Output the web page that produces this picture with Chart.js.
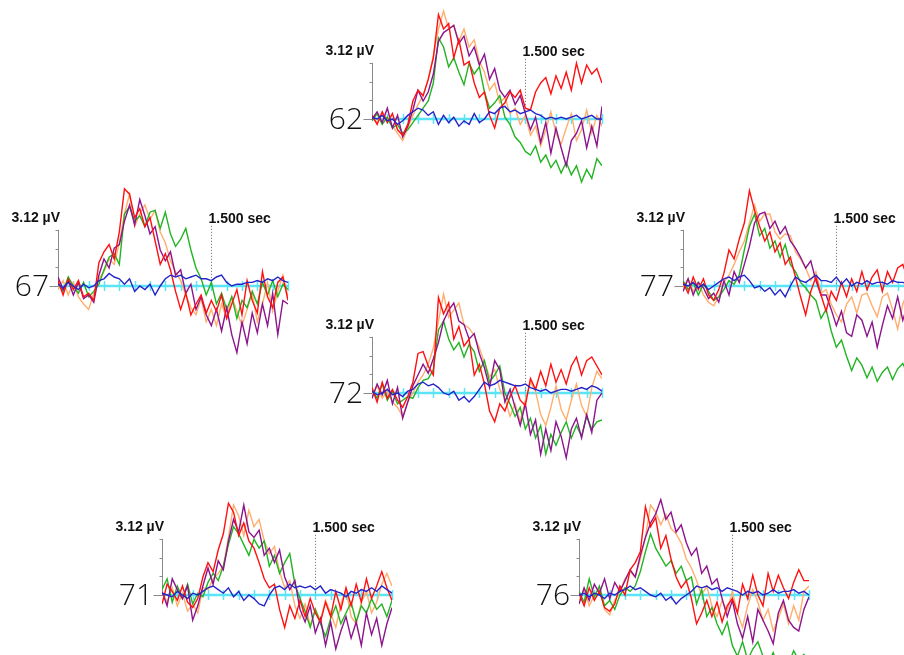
<!DOCTYPE html>
<html lang="en">
<head>
<meta charset="UTF-8">
<title>ERP channels</title>
<script src="https://cdn.jsdelivr.net/npm/chart.js"></script>
<style>
  body { margin: 0; background: #fff; overflow: hidden; }
  #page { position: relative; width: 904px; height: 655px; overflow: hidden; }
  .panel { position: absolute; }
</style>
</head>
<body>
<div id="page"></div>
<script>
// sample times (sec)
const times = [0.00,0.05,0.10,0.15,0.20,0.25,0.30,0.35,0.40,0.45,0.50,0.55,0.60,0.65,0.70,0.75,0.80,0.85,0.90,0.95,
  1.00,1.05,1.10,1.15,1.20,1.25,1.30,1.35,1.40,1.45,1.50,1.55,1.60,1.65,1.70,1.75,1.80,1.85,1.90,1.95,
  2.00,2.05,2.10,2.15,2.20,2.25];

const scaleMicroV = 3.12;
const scaleLabel = '3.12 µV';
const markerSec = 1.5;
const markerLabel = '1.500 sec';
const tickStep = 0.15;

// channel 62
const red62 = [0.2,-0.3,0.4,-0.2,0.3,-0.6,-0.9,-0.3,1.0,1.6,1.3,2.2,3.4,5.8,5.0,5.3,3.4,4.4,3.0,3.2,2.0,1.2,1.5,0.2,-0.5,0.6,0.9,1.5,1.2,1.6,0.6,0.5,1.5,2.0,2.3,1.4,2.4,1.7,2.6,1.6,3.1,2.0,3.0,2.5,2.8,2.0];
const orange62 = [0.1,-0.2,0.3,0.0,-0.4,-0.8,-1.2,-0.5,0.2,0.8,1.3,2.2,3.5,5.0,6.0,5.0,5.2,4.3,5.0,4.0,4.4,3.2,2.6,1.6,2.0,0.9,1.2,0.3,0.6,-0.3,0.2,-0.9,-0.4,-1.5,-0.6,0.4,-0.8,-1.4,-0.5,0.3,-1.2,-0.6,0.5,-0.8,0.2,-0.4];
const green62 = [-0.1,0.3,-0.3,0.1,-0.5,-0.3,-0.8,-0.6,-0.2,0.2,0.6,1.0,2.0,4.5,4.0,2.9,3.4,2.6,1.9,3.1,2.5,2.9,1.5,0.6,0.9,1.3,0.1,-0.3,-1.0,-1.3,-1.8,-2.0,-1.5,-2.4,-2.0,-2.7,-2.3,-3.0,-2.4,-3.1,-2.6,-3.5,-2.8,-3.3,-2.2,-2.6];
const purple62 = [0.0,0.4,-0.2,0.6,-0.5,0.2,-1.0,-0.4,0.5,1.6,1.0,1.5,2.5,4.3,4.8,5.0,5.2,4.2,4.6,3.5,4.0,3.0,3.6,2.2,2.8,1.6,1.2,1.6,0.8,1.3,0.3,-0.6,0.1,-1.3,-0.2,-1.9,-0.5,-1.6,-2.6,-1.2,-0.8,-0.1,-1.6,-0.4,-1.5,0.7];
const blue62 = [0.1,0.0,0.2,-0.1,0.0,-0.3,-0.1,0.2,0.4,0.6,0.5,0.2,0.4,-0.3,0.2,-0.2,0.1,-0.4,-0.1,-0.3,0.3,-0.2,0.0,0.4,0.3,0.6,0.7,0.4,0.5,0.3,0.4,0.5,0.3,0.2,0.0,0.1,0.0,0.1,0.0,0.1,0.2,0.0,0.1,0.2,0.0,0.0];

// channel 67
const red67 = [0.3,-0.5,0.4,-0.2,0.3,-0.6,-0.4,-0.8,1.3,1.9,2.3,1.5,3.0,5.4,5.1,3.8,4.3,3.3,3.8,2.5,1.2,1.8,0.9,-0.3,-1.3,-0.4,-1.6,-1.0,-0.5,-1.5,-0.8,-1.4,-0.5,-1.8,-1.0,-0.2,-1.6,0.3,-0.8,-1.5,0.8,-0.6,-1.2,0.2,0.5,-0.8];
const orange67 = [-0.2,0.3,-0.5,0.2,-0.6,-1.0,-1.3,-0.4,0.4,0.8,1.5,1.2,2.4,4.0,5.1,3.3,4.0,4.5,3.7,4.2,3.0,2.4,1.4,0.8,0.3,-0.5,-1.2,-1.6,-0.7,-2.0,-1.3,-2.2,-1.0,-1.8,-0.6,-1.4,-2.2,-1.3,-0.4,-2.0,-1.0,0.2,-1.4,-0.3,0.6,-0.6];
const green67 = [0.2,-0.3,0.5,0.0,-0.4,0.2,-0.6,-0.3,0.1,0.9,1.6,1.8,1.2,4.0,4.4,3.6,3.9,3.3,4.1,4.2,3.2,4.1,2.9,2.2,2.6,3.2,2.0,1.0,0.4,-0.5,0.2,-1.0,-0.4,-1.3,-0.6,-1.8,-0.8,-1.2,-0.3,-1.0,0.2,-0.5,0.3,-0.6,0.1,-0.2];
const purple67 = [0.5,-0.2,0.3,-0.5,0.2,-0.7,-0.5,-0.9,0.6,1.5,1.0,2.1,2.3,3.6,4.5,3.4,4.8,3.9,2.9,3.3,2.0,1.4,1.9,0.6,0.9,-0.4,0.1,-1.3,-0.6,-1.6,-2.2,-1.3,-2.5,-1.2,-2.7,-3.7,-2.0,-3.2,-1.5,-2.6,-1.0,-2.2,-0.4,-2.7,-0.8,-1.0];
const blue67 = [0.1,-0.1,0.2,0.0,-0.2,0.1,-0.1,0.0,0.3,0.4,0.7,0.5,0.4,0.1,0.4,-0.3,0.0,-0.2,0.1,-0.5,0.0,0.4,0.6,0.5,0.6,0.4,0.5,0.6,0.4,0.4,0.3,0.5,0.6,0.2,0.0,0.1,0.1,0.2,0.2,0.3,0.2,0.4,0.3,0.5,0.3,0.2];

// channel 77
const red77 = [0.2,-0.4,0.5,-0.2,0.4,-0.5,-0.8,-0.2,0.7,2.0,1.5,2.6,3.5,5.3,4.2,3.3,2.5,3.0,1.9,2.4,1.2,1.6,0.5,-0.6,-1.6,-0.3,0.5,-0.5,-1.4,-0.3,-0.8,0.2,-0.6,0.4,-0.3,0.8,-0.2,0.5,0.9,-0.3,0.8,0.2,1.0,1.2,0.4,0.8];
const orange77 = [-0.1,0.4,-0.3,0.2,-0.5,-0.9,-1.1,-0.6,0.2,0.6,1.2,1.9,2.5,3.5,4.5,3.6,4.0,4.0,3.0,2.6,2.9,2.8,1.9,1.5,1.0,0.3,0.8,-0.4,-0.2,-1.0,-1.6,-2.0,-1.0,-0.6,-1.5,-0.5,-0.4,-1.1,-1.7,-0.6,-0.4,-1.3,-2.4,-1.0,-0.3,-1.2];
const green77 = [0.3,-0.2,0.2,-0.5,0.1,-0.3,-0.8,-0.6,-0.2,0.3,0.1,0.6,2.0,3.3,4.0,2.8,3.2,2.1,2.5,1.6,2.3,1.2,0.8,0.2,-0.1,-0.5,-0.8,-1.8,-1.3,-2.5,-3.4,-3.0,-3.9,-4.7,-4.0,-4.4,-5.1,-4.5,-5.3,-4.8,-4.5,-5.2,-4.6,-4.3,-4.9,-4.5];
const purple77 = [-0.3,0.4,-0.5,0.2,-0.1,-0.7,-0.4,-0.9,0.3,-0.5,0.8,0.2,1.2,2.2,3.5,4.0,4.1,3.2,3.6,2.9,3.3,2.5,2.1,1.6,1.0,1.4,0.3,-0.5,-0.5,-1.3,-2.2,-1.4,-2.6,-2.8,-1.6,-1.9,-2.8,-2.0,-3.4,-2.2,-1.1,-1.8,-0.6,-1.9,-1.0,-1.5];
const blue77 = [0.1,0.0,0.2,-0.1,0.1,-0.2,0.0,0.2,0.4,0.5,0.3,0.5,0.6,0.3,-0.1,0.0,-0.3,-0.1,-0.5,-0.2,-0.6,0.0,0.5,0.3,0.2,0.4,0.6,0.3,0.3,0.2,0.5,0.1,0.4,0.0,0.2,0.1,0.3,0.1,0.2,0.2,0.1,0.3,0.2,0.2,0.1,0.2];

// channel 72
const red72 = [0.3,-0.5,0.6,-0.3,0.2,-0.4,-0.8,-0.2,0.6,2.2,2.3,1.5,1.0,5.3,4.4,5.0,3.0,3.7,2.6,3.0,1.0,1.6,0.5,-1.0,-1.6,-0.6,-1.0,-0.2,0.4,-0.4,-0.7,0.8,0.2,1.2,0.4,1.6,0.6,1.3,0.5,1.5,2.0,1.0,1.8,2.0,1.5,1.0];
const orange72 = [-0.2,0.4,-0.3,0.1,-0.5,-0.8,-1.3,-0.5,0.0,0.6,1.0,1.6,2.5,4.0,5.5,4.2,4.6,5.0,3.8,3.6,3.2,2.5,1.7,0.9,1.3,0.2,-0.3,-1.3,-0.6,-1.6,-0.4,0.6,0.1,-1.2,-1.8,-0.8,0.4,-0.9,-1.5,-0.4,0.5,-0.7,-1.3,0.3,1.2,0.8];
const green72 = [0.2,-0.3,0.5,-0.4,0.1,-0.6,-0.4,-0.2,-0.3,0.3,0.7,0.8,1.3,3.5,4.0,3.0,2.4,2.8,2.0,2.7,2.3,1.2,1.8,0.6,1.0,1.5,0.0,-0.6,-1.3,-0.8,-2.0,-1.4,-2.5,-1.8,-3.4,-2.3,-2.9,-2.2,-1.6,-2.5,-1.8,-2.4,-1.3,-2.0,-1.6,-1.5];
const purple72 = [-0.3,0.5,-0.1,0.7,-0.6,0.3,-1.4,-0.5,0.4,1.0,1.6,1.1,1.9,2.8,4.0,4.6,5.0,4.0,3.8,3.0,3.3,2.2,1.4,0.3,1.8,1.3,-0.5,0.2,-0.8,-1.8,-0.6,-2.3,-1.5,-3.4,-2.0,-3.2,-1.6,-2.4,-3.6,-2.0,-1.4,-2.5,-1.2,-2.2,-0.4,0.0];
const blue72 = [0.1,-0.1,0.0,0.2,-0.1,0.0,-0.2,0.1,0.2,0.5,0.6,0.4,0.5,0.3,0.0,-0.1,0.1,-0.4,-0.2,-0.5,-0.2,0.2,0.6,0.4,0.5,0.7,0.6,0.5,0.4,0.4,0.5,0.3,0.2,0.1,0.2,0.0,0.1,0.2,0.2,0.1,0.2,0.3,0.2,0.4,0.3,0.1];

// channel 71
const red71 = [-0.5,0.6,0.2,-0.3,0.5,-0.4,-0.7,-0.2,1.0,1.8,1.3,2.5,3.4,5.1,4.6,3.3,4.0,3.0,2.6,1.8,0.9,0.4,0.6,-0.8,-1.8,-0.6,-1.3,-0.3,-1.2,-0.2,-1.0,-1.5,-0.4,-1.2,0.2,-0.8,0.4,-0.6,0.6,-0.4,0.9,-0.2,0.5,1.3,0.4,-0.3];
const orange71 = [0.2,-0.4,0.4,-0.6,0.1,-0.9,-0.5,-1.0,0.4,0.3,0.9,1.2,1.6,3.2,5.0,4.4,3.3,4.7,3.8,4.2,3.0,2.3,2.7,1.3,0.4,0.8,-0.6,-1.3,-0.5,-1.7,-0.8,-1.4,-0.3,-1.0,-1.8,-0.5,0.3,-1.2,-1.6,-0.4,0.2,-1.0,-0.4,0.6,1.2,0.5];
const green71 = [0.3,0.9,-0.4,0.5,-0.2,0.6,-0.5,0.1,-0.1,0.7,1.2,0.8,1.6,2.8,3.8,3.4,2.8,2.2,3.1,2.6,3.0,1.6,2.2,1.2,1.8,2.3,0.6,-0.2,-0.9,-1.8,-0.8,-1.6,-2.3,-1.3,-0.6,-1.6,-1.0,-0.4,-1.5,-0.6,-1.0,-0.2,-0.8,-0.5,-1.2,-0.3];
const purple71 = [0.2,-0.6,0.9,0.3,-0.2,0.5,-1.4,-0.6,0.5,1.5,0.6,1.9,1.4,3.0,4.2,3.5,5.0,3.5,3.2,3.6,2.2,2.6,1.8,2.5,1.0,0.3,0.8,-0.8,-1.5,-0.6,-2.1,-1.3,-2.8,-1.5,-3.0,-2.0,-1.2,-2.4,-1.5,-2.8,-1.0,-2.2,-1.3,-2.8,-1.6,-0.7];
const blue71 = [0.1,0.0,-0.1,0.2,0.0,-0.2,0.1,0.0,0.2,0.4,0.5,0.3,0.1,0.4,-0.1,0.2,-0.3,0.0,-0.2,-0.5,-0.6,0.0,0.4,0.5,0.3,0.6,0.4,0.5,0.4,0.5,0.3,0.5,0.1,0.3,0.2,0.1,-0.1,0.2,0.1,0.3,0.2,0.4,0.2,0.5,0.3,0.1];

// channel 76
const red76 = [0.1,-0.6,0.4,-0.3,0.2,-0.7,-0.9,-0.5,0.5,0.0,1.4,1.8,2.4,4.9,3.8,4.3,2.6,3.3,2.0,1.0,0.4,0.8,-0.2,-1.6,-1.0,-0.3,-1.2,-0.4,-1.5,-0.6,-0.2,-1.0,0.6,-0.2,1.1,0.0,-0.6,1.2,0.2,1.1,0.4,-0.2,0.7,1.4,0.8,0.8];
const orange76 = [-0.3,0.3,-0.6,0.0,0.4,-0.8,-1.1,-0.3,0.2,0.9,1.3,1.0,2.0,3.2,5.0,4.6,3.9,4.5,3.7,3.4,2.9,2.0,1.5,0.8,0.0,0.5,-0.6,-1.2,-0.3,-0.9,0.2,-1.0,-1.8,-0.6,0.3,-0.4,-1.4,-0.8,-2.0,-1.3,-0.5,-1.6,-0.6,-1.4,0.2,0.5];
const green76 = [0.2,-0.4,0.9,-0.1,0.5,-0.6,-0.3,-0.8,0.0,0.4,0.2,0.5,1.3,2.4,3.4,2.6,2.1,1.6,1.9,1.2,1.6,0.8,1.0,-0.5,0.3,-1.2,-0.7,-1.6,-2.2,-1.5,-2.8,-3.4,-2.6,-3.6,-3.0,-2.6,-3.4,-3.8,-3.2,-4.0,-3.5,-3.8,-3.1,-3.6,-3.3,-3.8];
const purple76 = [-0.5,0.4,-0.3,0.6,0.1,0.9,-0.2,0.7,0.2,0.8,1.4,1.0,2.2,3.2,4.0,4.5,5.3,4.2,4.6,3.5,3.9,2.9,2.2,2.6,1.2,1.6,0.6,0.9,-0.2,-1.2,-0.3,-1.6,-2.4,-1.2,-2.6,-0.8,-1.4,-2.0,-2.7,-1.0,-0.3,-1.4,-1.8,-2.0,-0.8,-0.1];
const blue76 = [0.0,0.1,-0.1,0.1,0.0,-0.2,0.1,0.0,0.2,0.3,0.5,0.3,0.4,0.2,0.0,-0.1,0.1,-0.3,-0.1,-0.5,-0.2,0.0,0.2,0.5,0.4,0.5,0.3,0.4,0.2,0.4,0.3,0.2,0.0,0.2,0.1,0.2,0.0,0.1,0.3,0.1,0.2,0.2,0.3,0.1,0.2,0.0];

// first dataset is drawn on top
const seriesColors = ['#2424c8', '#ff1010', '#8c148c', '#22b422', '#ffae6e'];

// axis x / baseline y of each channel on the page
const panels = [
  { channel: '62', axisX: 372, baseY: 119, series: [blue62, red62, purple62, green62, orange62] },
  { channel: '67', axisX: 58,  baseY: 286, series: [blue67, red67, purple67, green67, orange67] },
  { channel: '77', axisX: 683, baseY: 286, series: [blue77, red77, purple77, green77, orange77] },
  { channel: '72', axisX: 372, baseY: 393, series: [blue72, red72, purple72, green72, orange72] },
  { channel: '71', axisX: 162, baseY: 595, series: [blue71, red71, purple71, green71, orange71] },
  { channel: '76', axisX: 579, baseY: 595, series: [blue76, red76, purple76, green76, orange76] }
];

const PAD_L = 80, PAD_R = 10, PAD_T = 4, PAD_B = 12;
const PLOT_W = 230, PX_PER_UV = 18, Y_MAX = 7, Y_MIN = -6;

function line(ctx, x1, y1, x2, y2) {
  ctx.beginPath();
  ctx.moveTo(x1, y1);
  ctx.lineTo(x2, y2);
  ctx.stroke();
}

const framePlugin = {
  id: 'frame',
  beforeDatasetsDraw(chart, args, opts) {
    const { ctx, scales: { x, y } } = chart;
    const x0 = x.getPixelForValue(0);
    const xEnd = x.getPixelForValue(x.max);
    const y0 = y.getPixelForValue(0);
    const yTop = y.getPixelForValue(scaleMicroV);
    ctx.save();

    // baseline with time ticks
    ctx.strokeStyle = '#5ae4f6';
    ctx.lineWidth = 2.5;
    line(ctx, x0, y0, xEnd, y0);
    ctx.lineWidth = 1.5;
    for (let t = tickStep; t <= x.max + 1e-6; t += tickStep) {
      const px = Math.round(x.getPixelForValue(t)) + 0.5;
      line(ctx, px, y0 - 5, px, y0 + 5);
    }

    // amplitude axis
    ctx.strokeStyle = '#8a8a8a';
    ctx.lineWidth = 1;
    const ax = Math.round(x0) + 0.5;
    line(ctx, ax, y0, ax, yTop);
    for (let k = 1; k <= 3; k++) {
      const yy = Math.round(y.getPixelForValue(scaleMicroV * k / 3)) + 0.5;
      line(ctx, ax - 3, yy, ax, yy);
    }
    line(ctx, ax - 9, Math.round(y0) + 0.5, ax, Math.round(y0) + 0.5);

    // 1.5 sec marker
    const xm = Math.round(x.getPixelForValue(markerSec)) + 0.5;
    ctx.strokeStyle = '#666';
    ctx.setLineDash([1, 2]);
    line(ctx, xm, yTop - 4, xm, y0);
    ctx.setLineDash([]);

    // texts
    ctx.fillStyle = '#111';
    ctx.font = 'bold 14px "Liberation Sans", Arial, sans-serif';
    ctx.textBaseline = 'alphabetic';
    ctx.textAlign = 'right';
    ctx.fillText(scaleLabel, x0 + 2, yTop - 8);
    ctx.textAlign = 'left';
    ctx.fillText(markerLabel, xm - 3, yTop - 7);

    ctx.font = '300 30px "Open Sans", sans-serif';
    ctx.textAlign = 'right';
    ctx.textBaseline = 'middle';
    ctx.fillText(opts.channel, x0 - 9, y0 + 1);
    ctx.restore();
  }
};

const page = document.getElementById('page');

panels.forEach(p => {
  const w = PAD_L + PLOT_W + PAD_R;
  const h = PAD_T + (Y_MAX - Y_MIN) * PX_PER_UV + PAD_B;
  const box = document.createElement('div');
  box.className = 'panel';
  box.style.left = (p.axisX - PAD_L) + 'px';
  box.style.top = (p.baseY - PAD_T - Y_MAX * PX_PER_UV) + 'px';
  const canvas = document.createElement('canvas');
  canvas.width = w;
  canvas.height = h;
  box.appendChild(canvas);
  page.appendChild(box);

  new Chart(canvas, {
    type: 'line',
    data: {
      datasets: p.series.map((vals, i) => ({
        data: times.map((t, j) => ({ x: t, y: vals[j] })),
        borderColor: seriesColors[i],
        borderWidth: 1.4,
        pointRadius: 0,
        tension: 0,
        fill: false
      }))
    },
    options: {
      responsive: false,
      animation: false,
      devicePixelRatio: 1,
      events: [],
      layout: { padding: { left: PAD_L, right: PAD_R, top: PAD_T, bottom: PAD_B } },
      plugins: {
        legend: { display: false },
        tooltip: { enabled: false },
        frame: { channel: p.channel }
      },
      scales: {
        x: { type: 'linear', min: 0, max: times[times.length - 1], display: false },
        y: { min: Y_MIN, max: Y_MAX, display: false }
      }
    },
    plugins: [framePlugin]
  });
});
</script>
</body>
</html>
